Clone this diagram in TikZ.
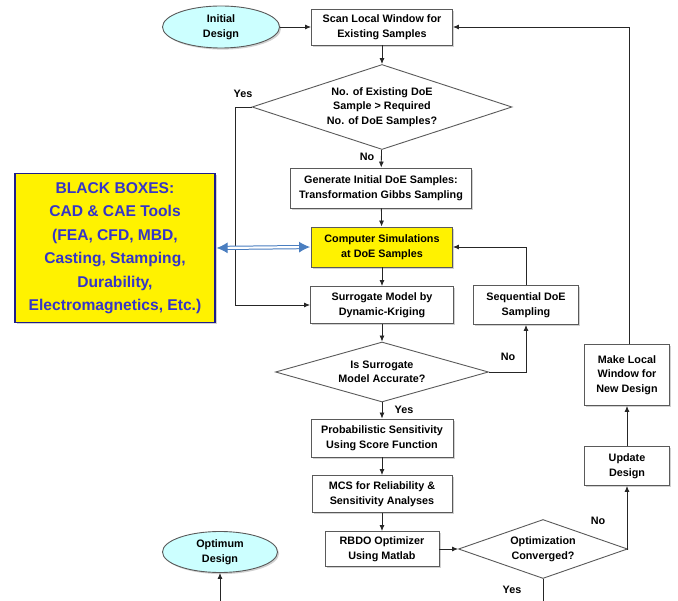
\documentclass[tikz,border=0pt]{standalone}
\usepackage{fontspec}
\setmainfont{Liberation Sans}
\usetikzlibrary{shapes.geometric,arrows.meta,shadows}
\definecolor{boxline}{HTML}{5A5A5A}
\definecolor{startfill}{HTML}{CCFFFF}
\definecolor{toolblue}{HTML}{3535C8}
\definecolor{toolframe}{HTML}{1E1E8C}
\definecolor{linkblue}{HTML}{4A7EC0}

\begin{document}
\begin{tikzpicture}[x=1pt,y=-1pt,
  txt/.style={font=\bfseries\fontsize{10.8}{14.5}\selectfont,align=center},
  box/.style={txt,draw=boxline,fill=white,line width=0.9pt,inner sep=0pt,
    drop shadow={shadow xshift=1.6pt,shadow yshift=-1.6pt,fill=black!30,opacity=0.6}},
  term/.style={box,ellipse,fill=startfill},
  test/.style={txt,diamond,draw=boxline,line width=0.9pt,inner sep=0pt,fill=white},
  line/.style={draw=black!85,line width=0.8pt,-{Latex[length=6pt,width=5pt]}},
  plain/.style={draw=black!85,line width=0.8pt}]
\useasboundingbox (0,0) rectangle (678,601);

% start and end
\node [term,minimum width=117,minimum height=42] (init) at (221,27) {Initial\\Design};
\node [term,minimum width=115,minimum height=41] (opt) at (220,552) {Optimum\\Design};

% main column
\node [box,minimum width=141,minimum height=36] (scan) at (382,27) {Scan Local Window for\\Existing Samples};
\node [test,aspect=3,minimum width=260,minimum height=85] (chk) at (382,107) {No. of Existing DoE\\Sample > Required\\No. of DoE Samples?};
\node [box,minimum width=181,minimum height=40] (gen) at (381,188) {Generate Initial DoE Samples:\\Transformation Gibbs Sampling};
\node [box,fill=yellow,minimum width=141,minimum height=40] (sim) at (382,247) {Computer Simulations\\at DoE Samples};
\node [box,minimum width=143,minimum height=37] (surr) at (382,305) {Surrogate Model by\\Dynamic-Kriging};
\node [test,aspect=3.5,minimum width=213,minimum height=60] (acc) at (382,372) {Is Surrogate\\Model Accurate?};
\node [box,minimum width=142,minimum height=38] (sens) at (382,438) {Probabilistic Sensitivity\\Using Score Function};
\node [box,minimum width=140,minimum height=37] (mcs) at (382,494) {MCS for Reliability \&\\Sensitivity Analyses};
\node [box,minimum width=114,minimum height=35] (rbdo) at (382,549) {RBDO Optimizer\\Using Matlab};
\node [test,aspect=2.8,minimum width=169,minimum height=59] (conv) at (543,549) {Optimization\\Converged?};

% right column
\node [box,minimum width=105,minimum height=39] (seq) at (526,305) {Sequential DoE\\Sampling};
\node [box,minimum width=85,minimum height=39] (upd) at (627,466) {Update\\Design};
\node [box,minimum width=85,minimum height=61] (mlw) at (627,375) {Make Local\\Window for\\New Design};

% tools
\node [draw=toolframe,fill=yellow,line width=1.2pt,minimum width=200,minimum height=149,
  align=center,text=toolblue,font=\bfseries\fontsize{15.6}{23.5}\selectfont,
  drop shadow={shadow xshift=1.6pt,shadow yshift=-1.6pt,fill=black!30,opacity=0.6}]
  (tools) at (115,248) {BLACK BOXES:\\CAD \& CAE Tools\\(FEA, CFD, MBD,\\Casting, Stamping,\\Durability,\\Electromagnetics, Etc.)};

% connectors
\draw [line] (init) -- (scan);
\draw [line] (scan) -- (chk);
\draw [line] (chk) -- (gen);
\draw [line] (gen) -- (sim);
\draw [line] (sim) -- (surr);
\draw [line] (surr) -- (acc);
\draw [line] (acc) -- (sens);
\draw [line] (sens) -- (mcs);
\draw [line] (mcs) -- (rbdo);
\draw [line] (rbdo) -- (conv);
\draw [line] (chk.west) -- ++(-16,0) |- (surr.west);
\draw [line] (acc.east) -| (seq.south);
\draw [line] (seq.north) |- (sim.east);
\draw [line] (conv.east) -| (upd.south);
\draw [line] (upd) -- (mlw);
\draw [line] ([xshift=2pt]mlw.north) |- (scan.east);
\coordinate (outR) at (543,601);
\coordinate (outL) at (220,601);
\draw [plain] (conv.south) -- (outR);
\draw [line] (outL) -- (opt.south);
\draw [draw=linkblue,line width=1pt,double=white,double distance=2.2pt,
  {Latex[length=11pt,width=11pt]}-{Latex[length=11pt,width=11pt]},shorten <=1pt,shorten >=1pt] (tools.east) -- (sim.west);

% branch labels
\node [txt] (yes1) at (243,94) {Yes};
\node [txt] (no1) at (367,157) {No};
\node [txt] (no2) at (508,357) {No};
\node [txt] (yes2) at (404,410) {Yes};
\node [txt] (no3) at (598,521) {No};
\node [txt] (yes3) at (512,590) {Yes};
\end{tikzpicture}
\end{document}
